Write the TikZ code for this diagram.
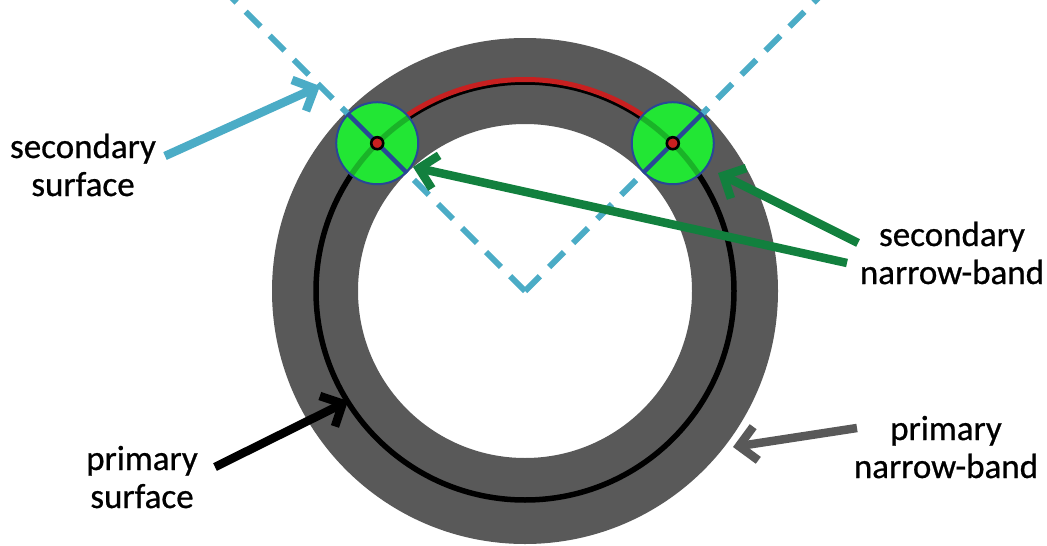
\documentclass[tikz,border=0pt]{standalone}
\usepackage{fontspec}
\setmainfont{Carlito}
\newfontfamily\lblfont[FakeBold=0.7]{Carlito}
\usetikzlibrary{arrows.meta}
\definecolor{ringgray}{RGB}{89,89,89}
\definecolor{cyanl}{RGB}{75,172,198}
\definecolor{darkgreen}{RGB}{18,128,62}
\definecolor{brightgreen}{RGB}{34,230,52}
\definecolor{navy}{RGB}{40,72,150}
\definecolor{redarc}{RGB}{200,32,32}
\begin{document}
\begin{tikzpicture}[x=1pt,y=-1pt,
  lbl/.style={font=\fontsize{35}{38}\lblfont, align=center, inner sep=0pt, anchor=base},
  arr/.style={line width=8.5pt, -{Straight Barb[length=17pt,width=34pt]}},
  dashline/.style={cyanl, line width=6pt, dash pattern=on 21pt off 13pt},
  gcirc/.style={circle, minimum size=82pt, inner sep=0pt, fill=brightgreen, draw=navy, line width=2pt},
  reddot/.style={circle, minimum size=12pt, inner sep=0pt, fill=redarc, draw=black, line width=2.6pt}]
\useasboundingbox (0,0) rectangle (1047,546);
\fill[white] (0,0) rectangle (1047,546);
\coordinate (O) at (525,291);
% primary narrow band
\fill[ringgray, even odd rule] (O) circle[radius=253] (O) circle[radius=167];
% secondary surface (dashed lines)
\begin{scope}
  \clip (0,0) rectangle (1047,546);
  \draw[dashline] (O) -- ++(-320,-320);
  \draw[dashline] (O) -- ++(320,-320);
\end{scope}
% primary surface
\draw[black, line width=5.5pt] (O) circle[radius=209];
\draw[redarc, line width=5pt] (O) ++(225:211.5) arc[start angle=225, end angle=315, radius=211.5];
% secondary narrow band circles
\path (O) ++(225:209) coordinate (L);
\path (O) ++(315:209) coordinate (R);
\node[gcirc] (gl) at (L) {};
\node[gcirc] (gr) at (R) {};
\begin{scope}
  \clip (L) circle[radius=40] (R) circle[radius=40];
  \draw[black, line width=5.5pt, opacity=0.22] (O) circle[radius=209];
\end{scope}
\draw[navy, line width=4.5pt] (gl.135) -- (gl.-45);
\draw[navy, line width=4.5pt] (gr.45) -- (gr.225);
\node[reddot] (dl) at (L) {};
\node[reddot] (dr) at (R) {};
% labels
\node[lbl] (secsurf) at (83,196) {secondary\\surface};
\node[lbl] (secnb) at (952,284) {secondary\\narrow-band};
\node[lbl] (primsurf) at (142,508) {primary\\surface};
\node[lbl] (primnb) at (946,478) {primary\\narrow-band};
% arrow coordinates
\coordinate (cS) at (165,156);
\coordinate (cT) at (320,86);
\coordinate (g1S) at (858,243);
\coordinate (g1T) at (718,173);
\coordinate (g2S) at (847,263);
\coordinate (g2T) at (413,167);
\coordinate (bS) at (215,467);
\coordinate (bT) at (348,401);
\coordinate (grS) at (857,428);
\coordinate (grT) at (733,447);
\draw[arr, cyanl] (cS) -- (cT);
\draw[arr, darkgreen] (g1S) -- (g1T);
\draw[arr, darkgreen] (g2S) -- (g2T);
\draw[arr, black] (bS) -- (bT);
\draw[arr, ringgray] (grS) -- (grT);
\end{tikzpicture}
\end{document}
